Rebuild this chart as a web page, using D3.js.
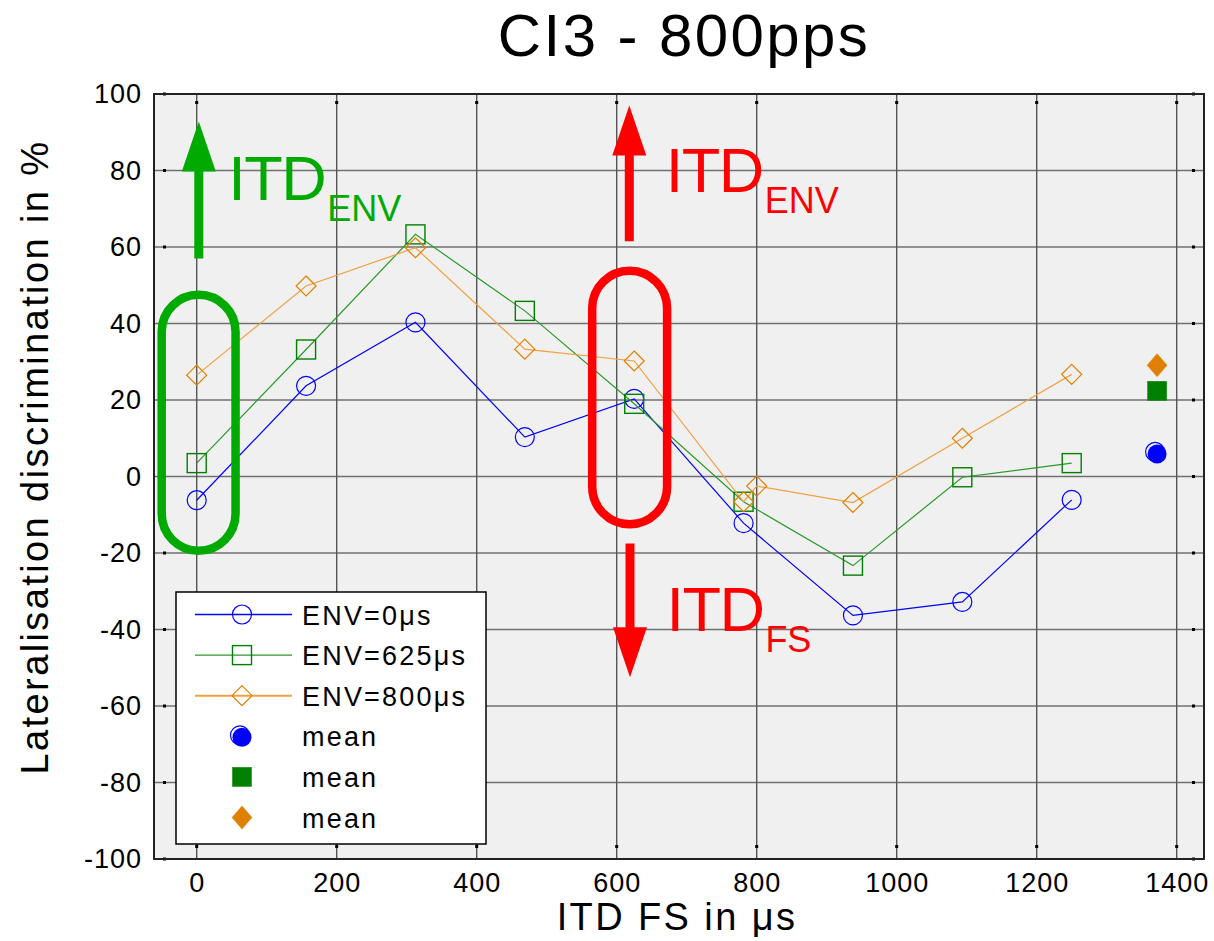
<!DOCTYPE html>
<html><head><meta charset="utf-8">
<script src="https://cdn.jsdelivr.net/npm/d3@7"></script>
<style>
html,body{margin:0;padding:0;background:#fff;}
svg text{font-family:"Liberation Sans",Arial,Helvetica,sans-serif;}
</style></head>
<body>
<svg id="chart" width="1214" height="941"></svg>
<script>
// ---- data ----
const title = "CI3 - 800pps";
const xLabel = "ITD FS in μs";
const yLabel = "Lateralisation discrimination in %";
const xTicks = [0, 200, 400, 600, 800, 1000, 1200, 1400];
const yTicks = [-100, -80, -60, -40, -20, 0, 20, 40, 60, 80, 100];

const env0X   = [0, 156.25, 312.5, 468.75, 625, 781.25, 937.5, 1093.75, 1250];
const env0Y   = [-6.2, 23.7, 40.3, 10.3, 20.3, -12.2, -36.3, -32.8, -6.1];
const env625X = [0, 156.25, 312.5, 468.75, 625, 781.25, 937.5, 1093.75, 1250];
const env625Y = [3.5, 33.2, 63.3, 43.3, 19.0, -6.6, -23.3, -0.2, 3.5];
const env800X = [0, 156.25, 312.5, 468.75, 625, 781.25, 800, 937.5, 1093.75, 1250];
const env800Y = [26.5, 49.8, 59.8, 33.3, 30.2, -6.6, -2.5, -6.8, 10.0, 26.7];
const meanX = 1372;
const meanY = [5.9, 22.4, 29.1];   // ENV=0, ENV=625, ENV=800
const legendLabels = ["ENV=0μs", "ENV=625μs", "ENV=800μs", "mean", "mean", "mean"];

// ---- layout ----
const L = 154, R = 1204, T = 94, B = 859;
const x = d3.scaleLinear().domain([-61, 1439]).range([L, R]);
const y = d3.scaleLinear().domain([-100, 100]).range([B, T]);
const svg = d3.select("#chart");

const cBlue = "#0000ff", cGreen = "#008000", cGreenL = "#2a9a2a", cOrange = "#e08000", cOrangeL = "#f0a040";

// plot background
svg.append("rect").attr("x", L).attr("y", T).attr("width", R - L).attr("height", B - T).attr("fill", "#f0f0f0");

// grid
svg.append("g").selectAll("line").data(yTicks).join("line")
  .attr("x1", L).attr("x2", R).attr("y1", d => y(d)).attr("y2", d => y(d))
  .attr("stroke", "#707070").attr("stroke-width", 1.7);
svg.append("g").selectAll("line").data(xTicks).join("line")
  .attr("x1", d => x(d)).attr("x2", d => x(d)).attr("y1", T).attr("y2", B)
  .attr("stroke", "#555").attr("stroke-width", 1.4);

// axes with labels
const fmt = d => String(d);
const xAxis = d3.axisBottom(x).tickValues(xTicks).tickSize(0).tickPadding(14).tickFormat(fmt);
const gx = svg.append("g").attr("transform", `translate(0,${B})`).call(xAxis);
gx.select(".domain").remove();
gx.selectAll("text").attr("font-size", 27).attr("fill", "#000").attr("letter-spacing", 1)
  .attr("font-family", "Liberation Sans, Arial, sans-serif");
const yAxis = d3.axisLeft(y).tickValues(yTicks).tickSize(0).tickPadding(12).tickFormat(fmt);
const gy = svg.append("g").attr("transform", `translate(${L},0)`).call(yAxis);
gy.select(".domain").remove();
gy.selectAll("text").attr("font-size", 27).attr("fill", "#000").attr("letter-spacing", 1)
  .attr("font-family", "Liberation Sans, Arial, sans-serif");

// tiny tick marks inside
const tk = svg.append("g").attr("fill", "#000");
xTicks.forEach(v => {
  tk.append("rect").attr("x", x(v) - 1.5).attr("y", T + 7).attr("width", 3).attr("height", 3);
  tk.append("rect").attr("x", x(v) - 1.5).attr("y", B - 14).attr("width", 3).attr("height", 3);
});
yTicks.forEach(v => {
  tk.append("rect").attr("x", L + 9).attr("y", y(v) - 1.5).attr("width", 3).attr("height", 3);
  tk.append("rect").attr("x", R - 12).attr("y", y(v) - 1.5).attr("width", 3).attr("height", 3);
});

// border
svg.append("rect").attr("x", L).attr("y", T).attr("width", R - L).attr("height", B - T)
  .attr("fill", "none").attr("stroke", "#222").attr("stroke-width", 2);

// ---- series ----
const line = d3.line().x(d => x(d[0])).y(d => y(d[1]));
function series(xs, ys, lineColor, markColor, shape) {
  const pts = xs.map((v, i) => [v, ys[i]]);
  svg.append("path").datum(pts).attr("d", line).attr("fill", "none")
    .attr("stroke", lineColor).attr("stroke-width", 1.2);
  const g = svg.append("g");
  pts.forEach(p => drawMarker(g, x(p[0]), y(p[1]), shape, markColor, false));
}
function drawMarker(g, cx, cy, shape, color, filled) {
  if (shape === "circle") {
    if (filled) {
      g.append("circle").attr("cx", cx - 2).attr("cy", cy - 2).attr("r", 9.5).attr("fill", "none").attr("stroke", color).attr("stroke-width", 1.2);
      g.append("circle").attr("cx", cx).attr("cy", cy).attr("r", 9.5).attr("fill", color);
    } else {
      g.append("circle").attr("cx", cx).attr("cy", cy).attr("r", 9.5).attr("fill", "none").attr("stroke", color).attr("stroke-width", 1.2);
    }
  } else if (shape === "square") {
    g.append("rect").attr("x", cx - 9.5).attr("y", cy - 9.5).attr("width", 19).attr("height", 19)
      .attr("fill", filled ? color : "none").attr("stroke", color).attr("stroke-width", filled ? 0.5 : 1.4);
  } else {
    const hw = 10, hh = filled ? 11.5 : 10;
    g.append("path").attr("d", `M${cx},${cy - hh}L${cx + hw},${cy}L${cx},${cy + hh}L${cx - hw},${cy}Z`)
      .attr("fill", filled ? color : "none").attr("stroke", color).attr("stroke-width", filled ? 0.5 : 1.2);
  }
}
series(env0X, env0Y, cBlue, cBlue, "circle");
series(env625X, env625Y, cGreenL, cGreen, "square");
series(env800X, env800Y, cOrangeL, cOrange, "diamond");
const mg = svg.append("g");
drawMarker(mg, x(meanX), y(meanY[0]), "circle", cBlue, true);
drawMarker(mg, x(meanX), y(meanY[1]), "square", cGreen, true);
drawMarker(mg, x(meanX), y(meanY[2]), "diamond", cOrange, true);

// ---- annotations (stadiums, arrows, labels) ----
function stadium(x0, x1, y0, y1, color) {
  const px0 = x(x0), px1 = x(x1), py0 = y(y0), py1 = y(y1);
  const w = px1 - px0, h = py1 - py0;
  svg.append("rect").attr("x", px0).attr("y", py0).attr("width", w).attr("height", h)
    .attr("rx", w / 2).attr("ry", w / 2).attr("fill", "none").attr("stroke", color).attr("stroke-width", 8.5);
}
function arrow(xv, yFrom, yTo, color) {
  const cx = x(xv), a = y(yFrom), b = y(yTo);
  const dir = b < a ? -1 : 1;
  const headLen = 50, headW = 17, shaftW = 4.5;
  const base = b - dir * headLen;
  svg.append("path").attr("fill", color)
    .attr("d", `M${cx - shaftW},${a}L${cx + shaftW},${a}L${cx + shaftW},${base}L${cx + headW},${base}L${cx},${b}L${cx - headW},${base}L${cx - shaftW},${base}Z`);
}
function itdLabel(xv, yv, sub, color) {
  const t = svg.append("text").attr("x", x(xv)).attr("y", y(yv)).attr("fill", color);
  t.append("tspan").attr("font-size", 63).attr("letter-spacing", -1.5).text("ITD");
  t.append("tspan").attr("font-size", 36).attr("dx", 2).attr("dy", 21).text(sub);
}
stadium(-50, 55.5, 47.5, -19.4, "#00aa00");
stadium(565, 672, 53.8, -12.5, "#ff0000");
arrow(3, 57, 92.8, "#00aa00");
arrow(618, 61.5, 97, "#ff0000");
arrow(619, -17.5, -52.5, "#ff0000");
itdLabel(45, 72.3, "ENV", "#00aa00");
itdLabel(670, 74.5, "ENV", "#ff0000");
itdLabel(671, -40.5, "FS", "#ff0000");

// ---- legend ----
const lg = svg.append("g");
lg.append("rect").attr("x", 176).attr("y", 592).attr("width", 310).attr("height", 252)
  .attr("fill", "#fff").attr("stroke", "#000").attr("stroke-width", 1.5);
const rowY = d3.range(6).map(i => 614.5 + i * 40.6);
const shapes = ["circle", "square", "diamond", "circle", "square", "diamond"];
const colsL = [cBlue, cGreenL, cOrangeL];
const colsM = [cBlue, cGreen, cOrange, cBlue, cGreen, cOrange];
legendLabels.forEach((lab, i) => {
  const ry = rowY[i];
  if (i < 3) {
    lg.append("line").attr("x1", 195).attr("x2", 292).attr("y1", ry).attr("y2", ry)
      .attr("stroke", colsL[i]).attr("stroke-width", i === 2 ? 2 : 1.3);
  }
  drawMarker(lg, 242, ry + (i === 3 ? 1 : 0), shapes[i], colsM[i], i >= 3);
  lg.append("text").attr("x", 302).attr("y", ry + 10).attr("font-size", 27).attr("letter-spacing", 2.2)
    .attr("fill", "#000").text(lab);
});

// ---- titles ----
svg.append("text").attr("x", 684).attr("y", 56).attr("text-anchor", "middle").attr("font-size", 60)
  .attr("letter-spacing", 2.4).attr("fill", "#000").text(title);
svg.append("text").attr("x", 677).attr("y", 930).attr("text-anchor", "middle").attr("font-size", 38)
  .attr("letter-spacing", 2.4).attr("fill", "#000").text(xLabel);
svg.append("text").attr("transform", "translate(48,457) rotate(-90)").attr("text-anchor", "middle")
  .attr("font-size", 38).attr("letter-spacing", 2.4).attr("fill", "#000").text(yLabel);
</script>
</body></html>
